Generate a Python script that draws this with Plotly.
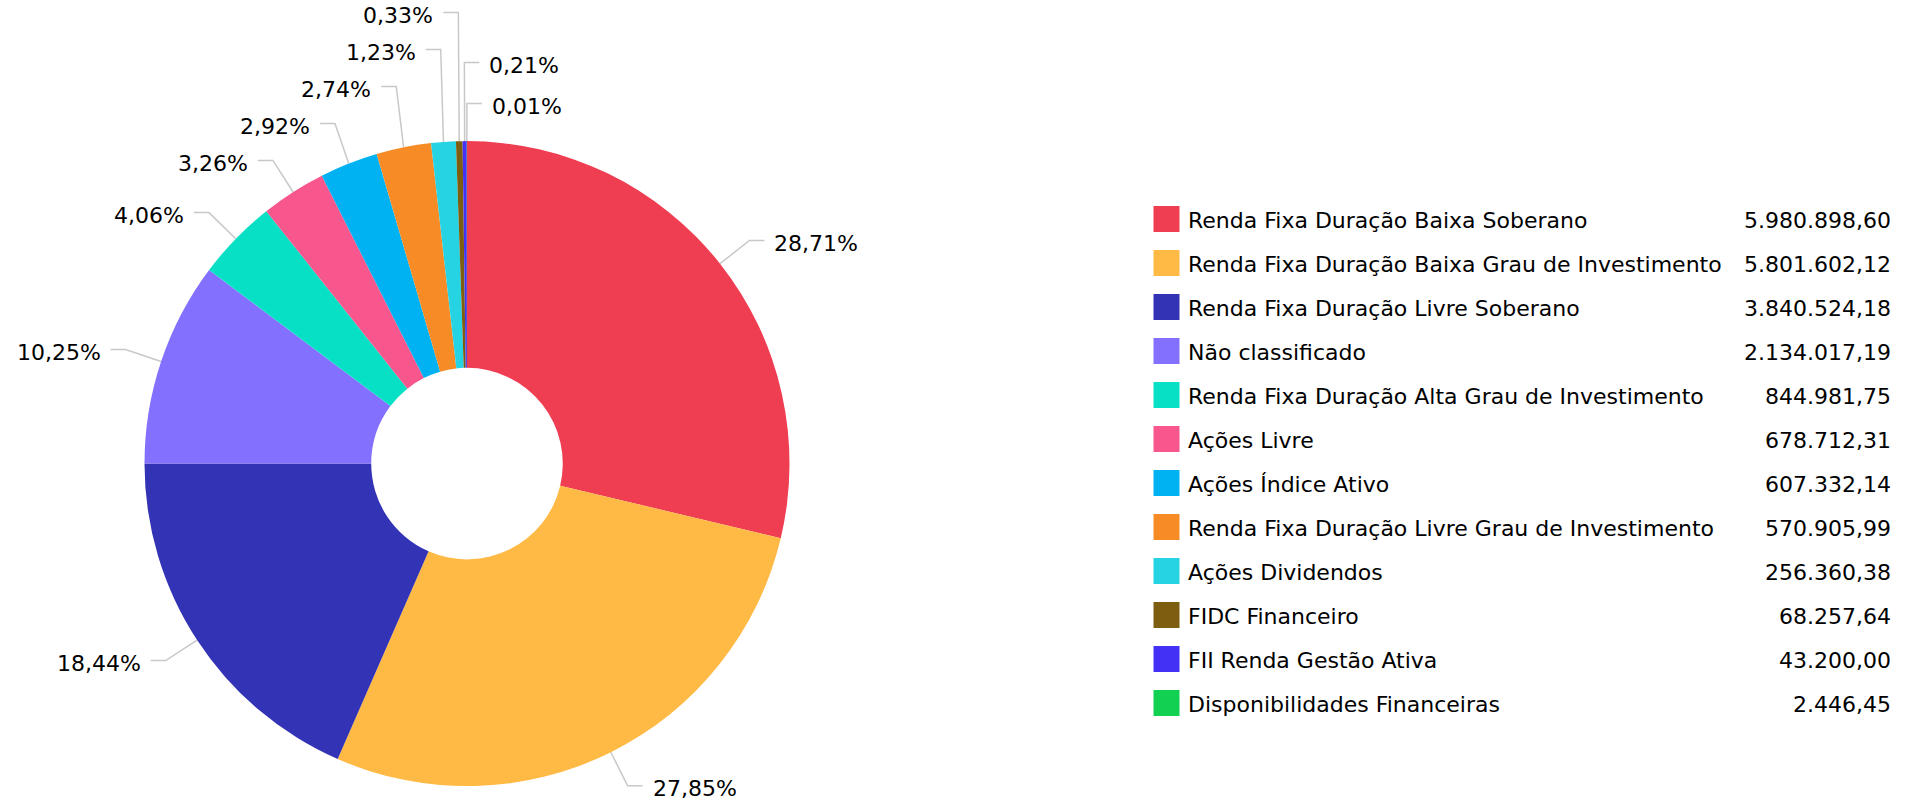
import math
import plotly.graph_objects as go

# ---------------- data ----------------
categories = [
    "Renda Fixa Duração Baixa Soberano",
    "Renda Fixa Duração Baixa Grau de Investimento",
    "Renda Fixa Duração Livre Soberano",
    "Não classificado",
    "Renda Fixa Duração Alta Grau de Investimento",
    "Ações Livre",
    "Ações Índice Ativo",
    "Renda Fixa Duração Livre Grau de Investimento",
    "Ações Dividendos",
    "FIDC Financeiro",
    "FII Renda Gestão Ativa",
    "Disponibilidades Financeiras",
]
values = [
    5980898.60, 5801602.12, 3840524.18, 2134017.19, 844981.75, 678712.31,
    607332.14, 570905.99, 256360.38, 68257.64, 43200.00, 2446.45,
]
colors = [
    "#EF3D52", "#FFBA45", "#3333B5", "#8370FE", "#08E0C5", "#F8578E",
    "#00B2F2", "#F78C27", "#25D3E3", "#7D5D0F", "#4332F5", "#12D151",
]

# ---------------- layout constants (page pixels) ----------------
W, H = 1923, 807
CX, CY, R = 467.0, 463.6, 322.5
HOLE = 0.297
RL = 360.0          # radius used for label placement
SEG = 15.0          # horizontal connector segment
GAP = 8.0           # gap between connector and text
SP = {"left": 37.0, "right": 41.0}   # minimum vertical spacing between labels
FONT = "DejaVu Sans, Verdana, sans-serif"
FS = 22

LEG_SQ_X = 1166.5
LEG_TXT_X = 1186.0
LEG_VAL_X = 1893.0
LEG_Y0 = 219.0
LEG_DY = 44.0


def fmt_br(v):
    s = f"{v:,.2f}"
    return s.replace(",", "X").replace(".", ",").replace("X", ".")


total = sum(values)

# ---------------- label geometry computed from the data ----------------
info = []
cum = 0.0
for i, v in enumerate(values):
    mid = (cum + v / 2.0) / total * 360.0
    cum += v
    th = math.radians(mid)
    s, c = math.sin(th), math.cos(th)
    side = "right" if s > -0.015 else "left"
    info.append(dict(
        i=i, mid=mid, side=side,
        ax=CX + R * s, ay=CY - R * c,
        nx=CX + RL * s, ny=CY - RL * c,
        pct=f"{v / total * 100:.2f}".replace(".", ",") + "%",
    ))

for side in ("left", "right"):
    items = [d for d in info if d["side"] == side]
    if side == "right":
        items.sort(key=lambda d: d["mid"] if d["mid"] <= 180 else d["mid"] - 360)
    else:
        items.sort(key=lambda d: -d["mid"])
    for k in range(len(items) - 1, -1, -1):
        if k == len(items) - 1:
            items[k]["y"] = items[k]["ny"]
        else:
            items[k]["y"] = min(items[k]["ny"], items[k + 1]["y"] - SP[side])

fig = go.Figure()

# pie (donut)
fig.add_trace(go.Pie(
    labels=categories,
    values=values,
    marker=dict(colors=colors, line=dict(width=0)),
    hole=HOLE,
    sort=False,
    direction="clockwise",
    rotation=0,
    textinfo="none",
    showlegend=False,
    domain=dict(
        x=[(CX - R) / W, (CX + R) / W],
        y=[1 - (CY + R) / H, 1 - (CY - R) / H],
    ),
    hovertemplate="%{label}<br>%{value:,.2f}<extra></extra>",
))

# connectors
lx, ly = [], []
annotations = []
for d in info:
    sgn = 1 if d["side"] == "right" else -1
    y = d["y"]
    lend = d["nx"] + sgn * SEG
    lx += [d["ax"], d["nx"], lend, None]
    ly += [d["ay"], y, y, None]
    annotations.append(dict(
        x=lend + sgn * GAP, y=y + 3, xref="x", yref="y",
        text=d["pct"], showarrow=False,
        xanchor="left" if sgn > 0 else "right", yanchor="middle",
        font=dict(family=FONT, size=FS, color="#000000"),
    ))

fig.add_trace(go.Scatter(
    x=lx, y=ly, mode="lines",
    line=dict(color="#C8C8C8", width=1.5),
    hoverinfo="skip", showlegend=False,
))

# custom legend
rows = list(range(len(categories)))
leg_y = [LEG_Y0 + LEG_DY * r for r in rows]
fig.add_trace(go.Scatter(
    x=[LEG_SQ_X] * len(rows), y=leg_y, mode="markers",
    marker=dict(symbol="square", size=26, color=colors, line=dict(width=0)),
    hoverinfo="skip", showlegend=False,
))
for r, name, v in zip(rows, categories, values):
    annotations.append(dict(
        x=LEG_TXT_X, y=leg_y[r] + 1, xref="x", yref="y", text=name,
        showarrow=False, xanchor="left", yanchor="middle",
        font=dict(family=FONT, size=FS, color="#000000"),
    ))
    annotations.append(dict(
        x=LEG_VAL_X, y=leg_y[r] + 1, xref="x", yref="y", text=fmt_br(v),
        showarrow=False, xanchor="right", yanchor="middle",
        font=dict(family=FONT, size=FS, color="#000000"),
    ))

fig.update_layout(
    width=W, height=H,
    margin=dict(l=0, r=0, t=0, b=0),
    paper_bgcolor="white", plot_bgcolor="white",
    xaxis=dict(range=[0, W], visible=False, fixedrange=True),
    yaxis=dict(range=[H, 0], visible=False, fixedrange=True),
    annotations=annotations,
    showlegend=False,
)

fig.write_html(
    "out.html",
    config={"displayModeBar": False},
    post_script="document.body.style.margin='0px';document.body.style.overflow='hidden';",
)
